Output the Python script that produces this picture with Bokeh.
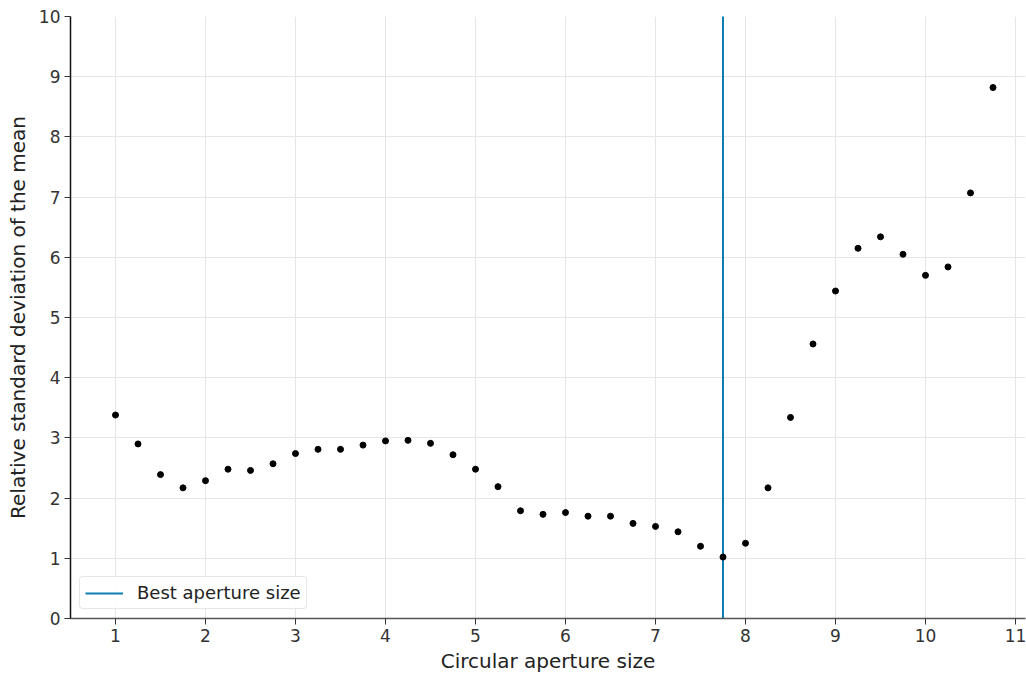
from bokeh.plotting import figure
from bokeh.models import Range1d, FixedTicker, Legend, LegendItem
from bokeh.embed import file_html
from bokeh.resources import INLINE

aperture = [1.0, 1.25, 1.5, 1.75, 2.0, 2.25, 2.5, 2.75, 3.0, 3.25, 3.5, 3.75,
            4.0, 4.25, 4.5, 4.75, 5.0, 5.25, 5.5, 5.75, 6.0, 6.25, 6.5, 6.75,
            7.0, 7.25, 7.5, 7.75, 8.0, 8.25, 8.5, 8.75, 9.0, 9.25, 9.5, 9.75,
            10.0, 10.25, 10.5, 10.75]
rel_std = [3.38, 2.90, 2.39, 2.17, 2.29, 2.48, 2.46, 2.57, 2.74, 2.81, 2.81, 2.88,
           2.95, 2.96, 2.91, 2.72, 2.48, 2.19, 1.79, 1.73, 1.76, 1.70, 1.70, 1.58,
           1.53, 1.44, 1.20, 1.02, 1.25, 2.17, 3.34, 4.56, 5.44, 6.15, 6.34, 6.05,
           5.70, 5.84, 7.07, 8.82]
best_aperture = 7.75
x_ticks = [1, 2, 3, 4, 5, 6, 7, 8, 9, 10, 11]
y_ticks = [0, 1, 2, 3, 4, 5, 6, 7, 8, 9, 10]

FONT = "DejaVu Sans"
LINE_COLOR = "#0f7db2"

p = figure(width=1026, height=675, output_backend="svg", toolbar_location=None,
           x_range=Range1d(0.5, 11.111), y_range=Range1d(0, 10),
           min_border_left=70, min_border_top=16, min_border_right=1,
           min_border_bottom=57)
p.outline_line_color = None

ln = p.line(x=[best_aperture, best_aperture], y=[y_ticks[0] - 1, y_ticks[-1] + 1],
            line_color=LINE_COLOR, line_width=2)
p.scatter(x=aperture, y=rel_std, size=6, color="black")

for ax in (p.xaxis[0], p.yaxis[0]):
    ax.major_label_text_font = FONT
    ax.major_label_text_font_size = "17px"
    ax.major_label_text_color = "#333333"
    ax.axis_label_text_font = FONT
    ax.axis_label_text_font_size = "20px"
    ax.axis_label_text_font_style = "normal"
    ax.axis_label_text_color = "#222222"
    ax.major_tick_out = 6
    ax.major_tick_in = 0
    ax.minor_tick_out = 0
    ax.minor_tick_in = 0
    ax.major_tick_line_color = "#333333"
    ax.axis_line_width = 1.5
    ax.axis_label_standoff = 6
    ax.major_label_standoff = 4

p.xaxis[0].axis_label_standoff = 4
p.xaxis[0].axis_line_color = "#555555"
p.yaxis[0].axis_line_color = "#111111"
p.xaxis.axis_label = "Circular aperture size"
p.yaxis.axis_label = "Relative standard deviation of the mean"
p.xaxis.ticker = FixedTicker(ticks=x_ticks)
p.yaxis.ticker = FixedTicker(ticks=y_ticks)

p.xgrid.ticker = FixedTicker(ticks=x_ticks)
p.ygrid.ticker = FixedTicker(ticks=y_ticks)
p.grid.grid_line_color = "#e6e6e6"
p.grid.grid_line_width = 1

legend = Legend(items=[LegendItem(label="Best aperture size", renderers=[ln])],
                location="bottom_left")
legend.margin = 9
legend.padding = 5
legend.glyph_width = 38
legend.label_standoff = 14
legend.label_text_font = FONT
legend.label_text_font_size = "18px"
legend.label_text_color = "#222222"
legend.border_line_color = "#d0d0d0"
legend.border_radius = 4
legend.background_fill_alpha = 0.9
p.add_layout(legend, "center")

open("out.html", "w").write(file_html(p, INLINE))
